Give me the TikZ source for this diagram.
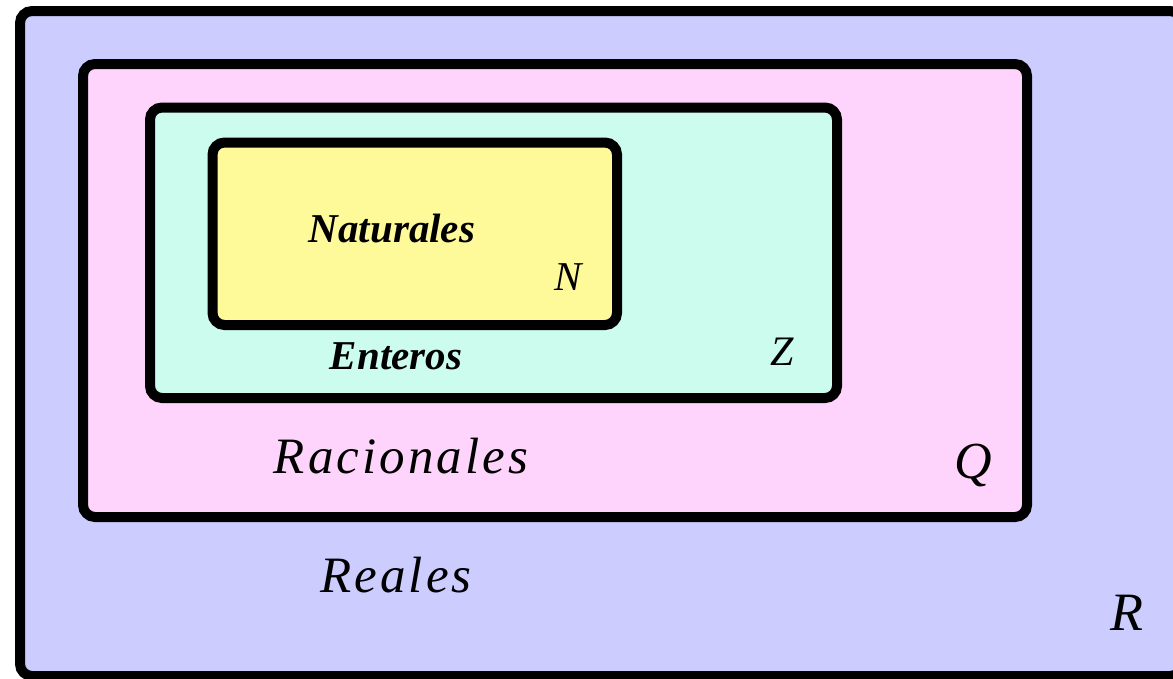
\documentclass[tikz,border=0pt]{standalone}
\usepackage{fontspec}
\setmainfont{Liberation Serif}
\newfontfamily\spacedserif[LetterSpace=6]{Liberation Serif}
\definecolor{realcol}{RGB}{204,204,255}
\definecolor{racicol}{RGB}{255,212,252}
\definecolor{entcol}{RGB}{204,252,238}
\definecolor{natcol}{RGB}{255,250,153}
\begin{document}
\begin{tikzpicture}[
    x=1pt, y=-1pt,
    setbox/.style={rectangle, draw=black, line width=10pt, rounded corners=12pt, inner sep=0pt},
    bigname/.style={anchor=base, inner sep=0pt, font=\spacedserif\itshape\fontsize{51}{60}\selectfont},
    smallname/.style={anchor=base, inner sep=0pt, font=\bfseries\itshape\fontsize{41}{48}\selectfont},
    letter/.style={anchor=base, inner sep=0pt, font=\itshape\fontsize{#1}{#1}\selectfont}
]
\useasboundingbox (0,0) rectangle (1173,678);

% Sets, outermost first
\node[setbox, fill=realcol, minimum width=1162pt, minimum height=665pt] (reales) at (601,343.5) {};
\node[setbox, fill=racicol, minimum width=944pt, minimum height=453pt] (racionales) at (555,290.5) {};
\node[setbox, fill=entcol, minimum width=687pt, minimum height=290.5pt] (enteros) at (493.5,252.75) {};
\node[setbox, fill=natcol, minimum width=404.5pt, minimum height=182.5pt] (naturales) at (414.75,233.75) {};

% Names
\node[smallname] (natname) at (392,242) {Naturales};
\node[smallname] (entname) at (396,369) {Enteros};
\node[bigname] (racname) at (401,473) {Racionales};
\node[bigname] (realname) at (396,592) {Reales};

% Letters
\node[letter=41] (nlet) at (568,290) {N};
\node[letter=42] (zlet) at (782,365) {Z};
\node[letter=52] (qlet) at (973,478) {Q};
\node[letter=54] (rlet) at (1127,630) {R};

\end{tikzpicture}
\end{document}
